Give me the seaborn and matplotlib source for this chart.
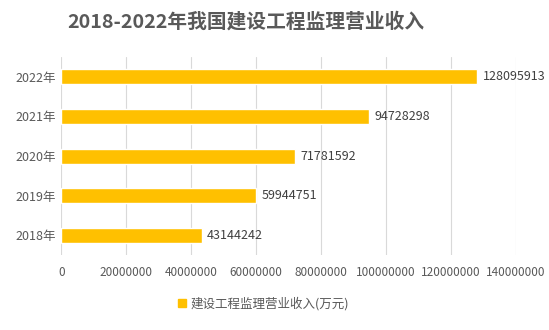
import matplotlib
matplotlib.use("Agg")
import matplotlib.pyplot as plt
import seaborn as sns
import pandas as pd

years = ["2018年", "2019年", "2020年", "2021年", "2022年"]
revenue = [43144242, 59944751, 71781592, 94728298, 128095913]
xticks = [0, 20000000, 40000000, 60000000, 80000000, 100000000, 120000000, 140000000]
series_name = "建设工程监理营业收入(万元)"
title = "2018-2022年我国建设工程监理营业收入"

sns.set_theme(style="white")
plt.rcParams['font.family'] = ['Noto Sans CJK SC', 'DejaVu Sans']

df = pd.DataFrame({"year": years[::-1], "value": revenue[::-1]})

fig = plt.figure(figsize=(5.49, 3.30), dpi=100)
ax = fig.add_axes([0.112, 0.227, 0.828, 0.60])
color = "#FFC000"
sns.barplot(data=df, x="value", y="year", ax=ax, color=color, width=0.38,
            saturation=1, orient="h")

ax.set_xlim(0, 140000000)
ax.set_ylim(4.5, -0.5)
ax.set_xticks(xticks)
ax.set_xticklabels([str(t) for t in xticks], fontsize=8.5, color="#595959")
ax.tick_params(axis='y', labelsize=9, colors="#595959", length=0, pad=4)
ax.tick_params(axis='x', length=0, pad=8)
ax.set_xlabel("")
ax.set_ylabel("")
for s in ax.spines.values():
    s.set_visible(False)
ax.xaxis.grid(True, color="#D9D9D9", linewidth=0.8)
ax.set_axisbelow(True)

for c in ax.containers:
    ax.bar_label(c, labels=[str(v) for v in df["value"]], padding=4,
                 fontsize=9, color="#404040")

fig.text(0.447, 0.935, title, ha="center", va="center", fontsize=14.2,
         fontweight="bold", color="#595959")

from matplotlib.patches import Patch
fig.legend(handles=[Patch(facecolor=color, edgecolor=color, label=series_name)],
           loc="center", bbox_to_anchor=(0.48, 0.08), frameon=False,
           fontsize=9, handlelength=0.6, handleheight=0.6, handletextpad=0.4,
           labelcolor="#595959")

fig.savefig("out.png", dpi=100, facecolor="white")
